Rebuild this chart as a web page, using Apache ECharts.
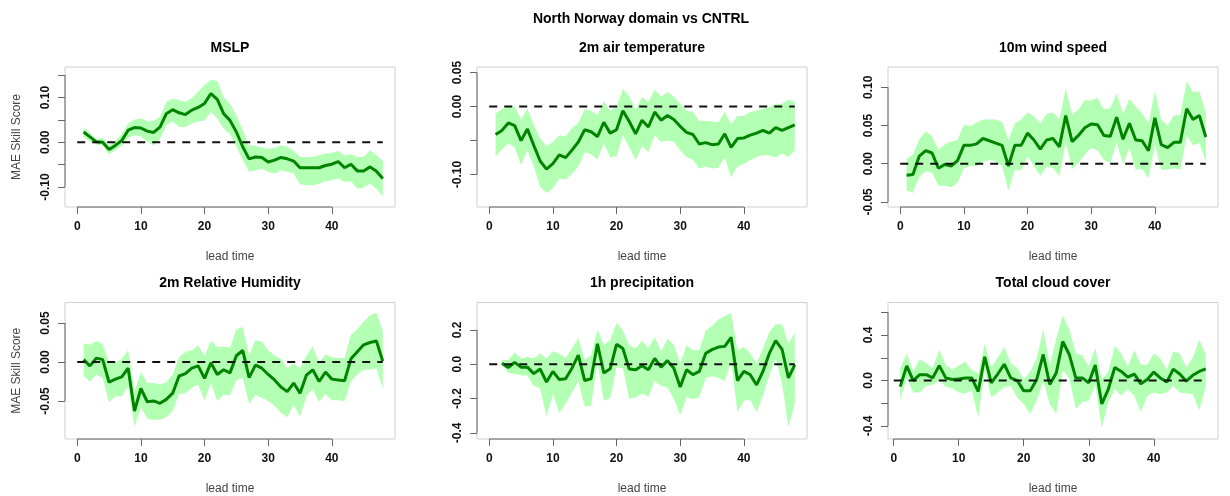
<!DOCTYPE html>
<html>
<head>
<meta charset="utf-8">
<script src="https://cdn.jsdelivr.net/npm/echarts@6/dist/echarts.min.js"></script>
<style>
  html, body { margin: 0; padding: 0; background: #ffffff; }
  #chart { width: 1230px; height: 496px; }
</style>
</head>
<body>
<div id="chart"></div>
<script>
// ---- data: MAE skill score vs lead time (mean with confidence band) ----
const leadTime = [1,2,3,4,5,6,7,8,9,10,11,12,13,14,15,16,17,18,19,20,21,22,23,24,
                  25,26,27,28,29,30,31,32,33,34,35,36,37,38,39,40,41,42,43,44,45,46,47,48];
const precipLeadTime = [2,3,4,5,6,7,8,9,10,11,12,13,14,15,16,17,18,19,20,21,22,23,24,
                  25,26,27,28,29,30,31,32,33,34,35,36,37,38,39,40,41,42,43,44,45,46,47,48];

const mslpMean = [0.023,0.012,0.001,0.000,-0.016,-0.007,0.004,0.027,0.033,0.032,0.025,0.022,0.034,0.064,0.073,0.066,0.062,0.072,0.078,0.087,0.109,0.096,0.064,0.049,0.023,-0.010,-0.037,-0.033,-0.034,-0.044,-0.040,-0.034,-0.037,-0.042,-0.057,-0.057,-0.057,-0.057,-0.052,-0.049,-0.043,-0.057,-0.049,-0.064,-0.064,-0.055,-0.065,-0.081];
const mslpHigh = [0.034,0.021,0.007,0.010,-0.007,0.004,0.018,0.042,0.051,0.053,0.047,0.048,0.057,0.090,0.098,0.094,0.090,0.099,0.113,0.128,0.140,0.137,0.101,0.087,0.060,0.027,-0.007,-0.007,-0.012,-0.014,-0.013,-0.007,-0.010,-0.019,-0.033,-0.033,-0.033,-0.029,-0.025,-0.024,-0.019,-0.029,-0.027,-0.033,-0.033,-0.018,-0.029,-0.042];
const mslpLow = [0.012,0.002,-0.005,-0.007,-0.027,-0.018,-0.007,0.010,0.016,0.013,0.002,-0.007,0.008,0.038,0.047,0.034,0.034,0.042,0.047,0.049,0.068,0.053,0.031,0.018,-0.010,-0.040,-0.066,-0.063,-0.059,-0.066,-0.070,-0.063,-0.066,-0.070,-0.094,-0.096,-0.096,-0.093,-0.087,-0.085,-0.081,-0.089,-0.087,-0.104,-0.101,-0.093,-0.104,-0.121];

const t2mMean = [-0.041,-0.035,-0.024,-0.028,-0.050,-0.033,-0.057,-0.080,-0.092,-0.084,-0.071,-0.075,-0.064,-0.052,-0.034,-0.037,-0.044,-0.023,-0.039,-0.034,-0.006,-0.022,-0.040,-0.020,-0.030,-0.008,-0.020,-0.013,-0.019,-0.029,-0.038,-0.041,-0.055,-0.053,-0.056,-0.055,-0.040,-0.060,-0.047,-0.046,-0.042,-0.039,-0.035,-0.039,-0.031,-0.035,-0.031,-0.027];
const t2mHigh = [-0.010,-0.004,0.002,0.000,-0.019,-0.003,-0.027,-0.047,-0.058,-0.052,-0.042,-0.044,-0.032,-0.024,-0.004,-0.006,-0.013,0.008,-0.006,0.000,0.026,0.015,-0.005,0.014,0.007,0.025,0.015,0.021,0.015,0.004,-0.006,-0.008,-0.021,-0.021,-0.022,-0.023,-0.008,-0.026,-0.014,-0.014,-0.008,-0.006,-0.003,-0.001,0.004,0.004,0.010,0.007];
const t2mLow = [-0.073,-0.063,-0.054,-0.060,-0.086,-0.064,-0.088,-0.118,-0.127,-0.120,-0.106,-0.107,-0.099,-0.088,-0.067,-0.070,-0.078,-0.054,-0.075,-0.073,-0.042,-0.060,-0.078,-0.058,-0.067,-0.042,-0.052,-0.050,-0.052,-0.064,-0.074,-0.078,-0.091,-0.088,-0.091,-0.090,-0.075,-0.104,-0.088,-0.084,-0.079,-0.074,-0.071,-0.072,-0.075,-0.069,-0.074,-0.064];

const wind10Mean = [-0.015,-0.014,0.010,0.017,0.014,-0.006,-0.001,-0.003,0.004,0.024,0.024,0.026,0.033,0.030,0.027,0.024,-0.003,0.024,0.024,0.040,0.031,0.019,0.031,0.033,0.022,0.063,0.029,0.037,0.047,0.052,0.051,0.037,0.036,0.061,0.032,0.053,0.031,0.030,0.017,0.060,0.025,0.021,0.028,0.028,0.072,0.058,0.063,0.035];
const wind10High = [0.006,0.012,0.032,0.042,0.036,0.018,0.025,0.029,0.031,0.051,0.049,0.054,0.058,0.058,0.058,0.055,0.031,0.053,0.058,0.067,0.062,0.053,0.065,0.067,0.058,0.099,0.065,0.071,0.083,0.083,0.086,0.071,0.073,0.092,0.065,0.085,0.075,0.066,0.053,0.095,0.058,0.050,0.063,0.064,0.108,0.094,0.095,0.067];
const wind10Low = [-0.035,-0.038,-0.017,-0.010,-0.012,-0.029,-0.029,-0.031,-0.025,-0.006,-0.003,-0.003,0.003,0.005,0.003,-0.003,-0.035,-0.008,-0.009,0.010,-0.003,-0.016,-0.004,-0.006,-0.016,0.028,-0.007,0.001,0.012,0.021,0.017,0.005,0.001,0.028,-0.001,0.021,-0.008,-0.007,-0.019,0.025,-0.008,-0.008,-0.006,-0.008,0.037,0.024,0.027,0.003];

const rh2mMean = [0.003,-0.005,0.005,0.003,-0.026,-0.022,-0.019,-0.008,-0.063,-0.034,-0.051,-0.050,-0.053,-0.048,-0.040,-0.018,-0.015,-0.008,-0.005,-0.021,-0.001,-0.016,-0.010,-0.014,0.008,0.015,-0.020,-0.004,-0.008,-0.016,-0.023,-0.032,-0.038,-0.027,-0.040,-0.017,-0.010,-0.025,-0.013,-0.022,-0.023,-0.024,0.004,0.013,0.022,0.025,0.027,0.001];
const rh2mHigh = [0.024,0.022,0.027,0.023,-0.001,-0.001,0.004,0.015,-0.038,-0.013,-0.027,-0.027,-0.029,-0.026,-0.016,0.006,0.013,0.015,0.021,0.008,0.027,0.019,0.020,0.018,0.042,0.045,0.009,0.028,0.026,0.015,0.008,0.004,-0.008,-0.002,-0.008,0.008,0.020,-0.001,0.010,0.006,0.005,0.005,0.035,0.042,0.052,0.060,0.063,0.040];
const rh2mLow = [-0.018,-0.025,-0.016,-0.021,-0.052,-0.044,-0.044,-0.031,-0.083,-0.058,-0.073,-0.074,-0.074,-0.071,-0.063,-0.041,-0.040,-0.033,-0.029,-0.049,-0.027,-0.050,-0.042,-0.043,-0.023,-0.021,-0.054,-0.042,-0.046,-0.050,-0.056,-0.065,-0.071,-0.055,-0.070,-0.044,-0.035,-0.051,-0.041,-0.049,-0.049,-0.050,-0.025,-0.016,-0.010,-0.010,-0.008,-0.034];

const precipMean = [0.006,-0.019,0.011,-0.017,-0.017,-0.055,-0.028,-0.104,-0.042,-0.089,-0.085,-0.023,0.053,-0.095,-0.085,0.119,-0.051,-0.027,0.116,0.091,-0.028,-0.032,-0.009,-0.032,0.034,-0.017,0.021,-0.023,-0.133,-0.032,-0.061,-0.042,0.063,0.085,0.100,0.104,0.157,-0.095,-0.042,-0.061,-0.121,-0.042,0.063,0.138,0.087,-0.080,-0.004];
const precipHigh = [0.025,0.025,0.068,0.034,0.044,0.034,0.063,0.034,0.076,0.063,0.038,0.091,0.152,0.025,0.053,0.201,0.114,0.138,0.242,0.195,0.110,0.091,0.138,0.095,0.157,0.076,0.148,0.114,0.006,0.110,0.081,0.081,0.195,0.223,0.261,0.280,0.299,0.081,0.100,0.063,0.006,0.091,0.186,0.233,0.233,0.119,0.182];
const precipLow = [-0.004,-0.051,-0.057,-0.064,-0.066,-0.127,-0.140,-0.303,-0.174,-0.284,-0.231,-0.165,-0.098,-0.246,-0.241,0.011,-0.212,-0.199,-0.019,-0.023,-0.203,-0.193,-0.170,-0.189,-0.098,-0.127,-0.136,-0.203,-0.297,-0.193,-0.203,-0.193,-0.080,-0.070,-0.080,-0.098,0.015,-0.278,-0.212,-0.208,-0.278,-0.184,-0.064,0.034,-0.114,-0.364,-0.231];

const cloudMean = [-0.054,0.129,0.000,0.051,0.051,0.023,0.131,0.023,0.009,0.014,0.023,0.023,-0.097,0.209,-0.020,0.057,0.143,0.023,0.000,-0.091,-0.091,0.009,0.229,-0.034,0.066,0.343,0.229,0.023,0.023,-0.020,0.137,-0.206,-0.077,0.114,0.080,0.029,0.057,-0.029,0.009,0.074,0.023,-0.014,0.100,0.057,-0.006,0.046,0.080,0.103];
const cloudHigh = [0.109,0.237,0.080,0.189,0.151,0.109,0.271,0.137,0.094,0.131,0.166,0.094,0.057,0.323,0.114,0.200,0.294,0.151,0.109,0.009,0.080,0.200,0.451,0.137,0.366,0.574,0.451,0.237,0.223,0.123,0.286,0.009,0.080,0.303,0.237,0.123,0.266,0.143,0.137,0.237,0.194,0.094,0.257,0.237,0.114,0.200,0.360,0.229];
const cloudLow = [-0.171,0.023,-0.106,-0.106,-0.049,-0.040,0.000,-0.057,-0.069,-0.106,-0.114,-0.086,-0.326,0.094,-0.149,-0.106,-0.057,-0.049,-0.149,-0.206,-0.291,-0.177,-0.006,-0.206,-0.291,0.086,0.023,-0.249,-0.191,-0.177,-0.034,-0.420,-0.191,-0.077,-0.134,-0.077,-0.134,-0.277,-0.134,-0.106,-0.120,-0.106,-0.049,-0.106,-0.114,-0.120,-0.263,-0.049];

// ---- tick marks and labels ----
const leadTicks = [0, 10, 20, 30, 40];
const zeroLineX = [0, 48];
const mslpTicks = [-0.10, -0.05, 0, 0.05, 0.10, 0.15];
const mslpLabels = [-0.10, 0, 0.10];
const t2mTicks = [-0.10, -0.05, 0, 0.05];
const t2mLabels = [-0.10, 0, 0.05];
const wind10Ticks = [-0.05, 0, 0.05, 0.10];
const wind10Labels = [-0.05, 0, 0.05, 0.10];
const rh2mTicks = [-0.05, 0, 0.05];
const rh2mLabels = [-0.05, 0, 0.05];
const precipTicks = [-0.4, -0.2, 0, 0.2];
const precipLabels = [-0.4, -0.2, 0, 0.2];
const cloudTicks = [-0.4, -0.2, 0, 0.2, 0.4, 0.6];
const cloudLabels = [-0.4, 0, 0.4];

const mainTitle = 'North Norway domain vs CNTRL';
const xName = 'lead time';
const yName = 'MAE Skill Score';

// ---- panels ----
const panels = [
  { title: 'MSLP', x: leadTime, mean: mslpMean, low: mslpLow, high: mslpHigh,
    ticks: mslpTicks, labels: mslpLabels, digits: 2, yRange: [-0.1448, 0.1685], xRange: [-1.92, 49.92] },
  { title: '2m air temperature', x: leadTime, mean: t2mMean, low: t2mLow, high: t2mHigh,
    ticks: t2mTicks, labels: t2mLabels, digits: 2, yRange: [-0.1476, 0.0582], xRange: [-1.92, 49.92] },
  { title: '10m wind speed', x: leadTime, mean: wind10Mean, low: wind10Low, high: wind10High,
    ticks: wind10Ticks, labels: wind10Labels, digits: 2, yRange: [-0.0567, 0.1266], xRange: [-1.92, 49.92] },
  { title: '2m Relative Humidity', x: leadTime, mean: rh2mMean, low: rh2mLow, high: rh2mHigh,
    ticks: rh2mTicks, labels: rh2mLabels, digits: 2, yRange: [-0.0988, 0.0763], xRange: [-1.92, 49.92] },
  { title: '1h precipitation', x: precipLeadTime, mean: precipMean, low: precipLow, high: precipHigh,
    ticks: precipTicks, labels: precipLabels, digits: 1, yRange: [-0.4358, 0.3597], xRange: [-1.92, 49.92] },
  { title: 'Total cloud cover', x: leadTime, mean: cloudMean, low: cloudLow, high: cloudHigh,
    ticks: cloudTicks, labels: cloudLabels, digits: 1, yRange: [-0.514, 0.6857], xRange: [-0.88, 49.88] }
];

const FONT = "'Liberation Sans', Arial, Helvetica, sans-serif";
const colLeft = [65, 477, 888];
const rowTop = [67, 302.5];
const boxW = 330, boxH = 140;
const bandColor = '#b3ffb3';
const lineColor = '#008400';
const axisColor = '#666666';

const grids = [], xAxes = [], yAxes = [], series = [];
const titles = [{
  text: mainTitle, left: 641, top: 12, textAlign: 'center', padding: 0,
  textStyle: { fontFamily: FONT, fontSize: 14, fontWeight: 'bold', color: '#000' }
}];

panels.forEach((p, i) => {
  const col = i % 3, row = Math.floor(i / 3);
  const left = colLeft[col], top = rowTop[row];
  grids.push({ left: left, top: top, width: boxW, height: boxH, show: true,
               borderColor: '#d0d0d0', borderWidth: 1, backgroundColor: 'transparent', containLabel: false });
  titles.push({ text: p.title, left: left + boxW / 2, top: top - 26, textAlign: 'center', padding: 0,
                textStyle: { fontFamily: FONT, fontSize: 14, fontWeight: 'bold', color: '#000' } });

  xAxes.push({
    type: 'value', gridIndex: i, min: p.xRange[0], max: p.xRange[1], position: 'bottom',
    axisLine: { show: false, onZero: false }, splitLine: { show: false },
    axisTick: { show: true, customValues: leadTicks, length: 7, lineStyle: { color: axisColor, width: 1 } },
    axisLabel: { customValues: leadTicks, margin: 14, fontFamily: FONT, fontSize: 12, fontWeight: 'bold', color: '#111' },
    name: xName, nameLocation: 'middle', nameGap: 44,
    nameTextStyle: { fontFamily: FONT, fontSize: 12, color: '#444' }
  });

  const dig = p.digits;
  yAxes.push({
    type: 'value', gridIndex: i, min: p.yRange[0], max: p.yRange[1], position: 'left',
    axisLine: { show: false, onZero: false }, splitLine: { show: false },
    axisTick: { show: true, customValues: p.ticks, length: 7, lineStyle: { color: axisColor, width: 1 } },
    axisLabel: { customValues: p.labels, rotate: 90, margin: 13, fontFamily: FONT, fontSize: 12, fontWeight: 'bold', color: '#111',
                 formatter: v => (Math.abs(v) < 1e-9 ? 0 : v).toFixed(dig) },
    name: col === 0 ? yName : '', nameLocation: 'middle', nameGap: 42,
    nameTextStyle: { fontFamily: FONT, fontSize: 12, color: '#444' }
  });

  // confidence band
  const xs = p.x, lo = p.low, hi = p.high;
  series.push({
    type: 'custom', xAxisIndex: i, yAxisIndex: i, silent: true, z: 1,
    data: xs.map((t, k) => [t, lo[k], hi[k]]),
    encode: { x: 0, y: [1, 2] },
    renderItem: (params, api) => {
      if (params.dataIndex !== 0) return null;
      const pts = [];
      for (let k = 0; k < xs.length; k++) pts.push(api.coord([xs[k], hi[k]]));
      for (let k = xs.length - 1; k >= 0; k--) pts.push(api.coord([xs[k], lo[k]]));
      return { type: 'polygon', shape: { points: pts }, style: { fill: bandColor } };
    }
  });

  // mean skill score
  series.push({
    type: 'line', xAxisIndex: i, yAxisIndex: i, silent: true, z: 3,
    data: xs.map((t, k) => [t, p.mean[k]]),
    symbol: 'none', lineStyle: { color: lineColor, width: 3 }
  });

  // zero reference
  series.push({
    type: 'line', xAxisIndex: i, yAxisIndex: i, silent: true, z: 4,
    data: zeroLineX.map(t => [t, 0]),
    symbol: 'none', lineStyle: { color: '#111', width: 2, type: [8, 7] }
  });

  // axis lines spanning first to last tick
  series.push({
    type: 'line', xAxisIndex: i, yAxisIndex: i, silent: true, z: 5, clip: false,
    data: [[leadTicks[0], p.yRange[0]], [leadTicks[leadTicks.length - 1], p.yRange[0]]],
    symbol: 'none', lineStyle: { color: axisColor, width: 1 }
  });
  series.push({
    type: 'line', xAxisIndex: i, yAxisIndex: i, silent: true, z: 5, clip: false,
    data: [[p.xRange[0], p.ticks[0]], [p.xRange[0], p.ticks[p.ticks.length - 1]]],
    symbol: 'none', lineStyle: { color: axisColor, width: 1 }
  });
});

const chart = echarts.init(document.getElementById('chart'), null, { renderer: 'canvas' });
chart.setOption({
  animation: false,
  backgroundColor: '#ffffff',
  title: titles,
  grid: grids,
  xAxis: xAxes,
  yAxis: yAxes,
  series: series
});
</script>
</body>
</html>
